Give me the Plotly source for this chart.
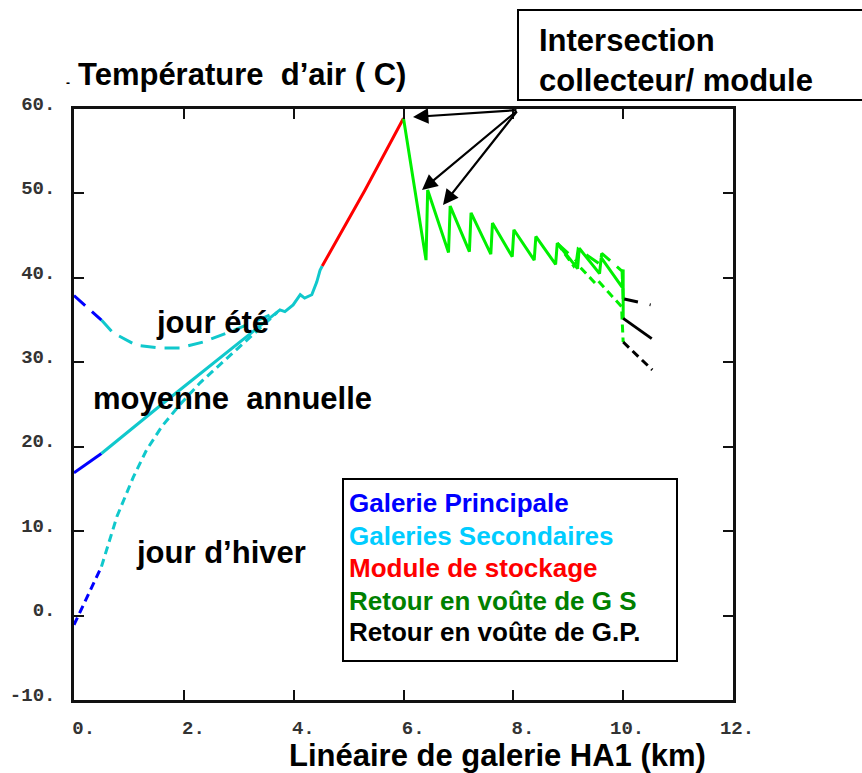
import plotly.graph_objects as go

# ---------------- data ----------------
# Moyenne annuelle (solid)
mean_gp_x = [0.0, 0.5]
mean_gp_y = [16.9, 19.2]
mean_gs_x = [0.5, 1.0, 1.5, 2.0, 2.5, 3.0, 3.5, 3.75, 3.84, 3.99, 4.12, 4.2, 4.33, 4.42, 4.48, 4.52]
mean_gs_y = [19.2, 21.9, 24.5, 27.1, 29.7, 32.3, 34.9, 36.2, 36.0, 36.8, 38.0, 37.6, 38.0, 39.5, 40.9, 41.4]
module_x = [4.52, 5.3, 6.0]
module_y = [41.4, 50.4, 58.9]
mean_ret_x = [6.0, 6.41, 6.44, 6.82, 6.85, 7.2, 7.23, 7.59, 7.62, 7.98, 8.01, 8.38, 8.41,
              8.77, 8.8, 9.17, 9.2, 9.57, 9.6, 9.98, 10.0, 10.0]
mean_ret_y = [58.9, 42.1, 50.4, 43.0, 48.5, 43.1, 47.7, 42.8, 46.5, 42.5, 45.7, 42.1, 44.9,
              41.6, 44.1, 41.1, 43.5, 40.5, 42.4, 38.9, 41.0, 35.2]
mean_gpret_x = [10.0, 10.52]
mean_gpret_y = [35.2, 32.8]

# Jour d'ete (long dashes)
ete_gp_x = [0.0, 0.5]
ete_gp_y = [37.9, 35.0]
ete_gs_x = [0.5, 0.71, 1.14, 1.57, 1.93, 2.35, 2.84, 3.26, 3.57]
ete_gs_y = [35.0, 33.5, 32.0, 31.7, 31.7, 32.4, 33.6, 34.8, 35.6]
ete_ret_x = [8.8, 9.15, 9.18, 9.58, 9.61, 9.98, 10.0]
ete_ret_y = [44.1, 42.0, 43.4, 41.6, 42.9, 40.8, 37.5]
ete_gpret_x = [10.02, 10.5]
ete_gpret_y = [37.5, 36.8]

# Jour d'hiver (short dashes)
hiver_gp_x = [0.0, 0.5]
hiver_gp_y = [-1.1, 5.8]
hiver_gs_x = [0.5, 0.78, 1.08, 1.32, 1.6, 1.93, 2.3, 2.7, 3.1, 3.45, 3.7]
hiver_gs_y = [5.8, 11.7, 16.4, 19.6, 22.4, 25.0, 27.6, 30.0, 32.3, 34.5, 35.9]
hiver_ret_x = [8.8, 9.1, 9.14, 9.5, 9.55, 9.97, 10.0]
hiver_ret_y = [44.1, 41.4, 41.8, 39.3, 39.6, 36.6, 32.4]
hiver_gpret_x = [10.0, 10.53]
hiver_gpret_y = [32.4, 29.1]

x_ticks = [0, 2, 4, 6, 8, 10, 12]
x_ticktext = ["\u00a00.", "\u00a02.", "\u00a04.", "\u00a06.", "\u00a08.", "10.", "12."]
y_ticks = [-10, 0, 10, 20, 30, 40, 50, 60]
y_ticktext = ["-10.", "0.", "10.", "20.", "30.", "40.", "50.", "60."]

legend_labels = ["Galerie Principale", "Galeries Secondaires", "Module de stockage",
                 "Retour en voûte de G S", "Retour en voûte de G.P."]
legend_colors = ["#0000ff", "#00ccff", "#ff0000", "#008000", "#000000"]

# ---------------- styles ----------------
BLUE = "#0000ff"
CYAN = "#10c8cc"
RED = "#ff0000"
GREEN = "#00f000"
BLACK = "#000000"
LW = 3
DASH_ETE = "15px,9px"
DASH_HIVER = "8px,5px"

fig = go.Figure()

def add(x, y, color, dash="solid"):
    fig.add_trace(go.Scatter(x=x, y=y, mode="lines",
                             line=dict(color=color, width=LW, dash=dash),
                             showlegend=False, hoverinfo="skip"))

add(ete_gp_x, ete_gp_y, BLUE, DASH_ETE)
add(ete_gs_x, ete_gs_y, CYAN, DASH_ETE)
add(hiver_gp_x, hiver_gp_y, BLUE, DASH_HIVER)
add(hiver_gs_x, hiver_gs_y, CYAN, DASH_HIVER)
add(ete_ret_x, ete_ret_y, GREEN, DASH_ETE)
add(hiver_ret_x, hiver_ret_y, GREEN, DASH_HIVER)
add(mean_gp_x, mean_gp_y, BLUE)
add(mean_gs_x, mean_gs_y, CYAN)
add(module_x, module_y, RED)
add(mean_ret_x, mean_ret_y, GREEN)
add(mean_gpret_x, mean_gpret_y, BLACK)
add(ete_gpret_x, ete_gpret_y, BLACK, "14px,12px,3px,30px")
add(hiver_gpret_x, hiver_gpret_y, BLACK, "8px,5px")

# ---------------- layout ----------------
W, H = 862, 773
L, R, T, B = 74, 733, 109, 700

def px(xp):
    return (xp - L) / (R - L)

def py(yp):
    return (B - yp) / (B - T)

FONT = "Liberation Sans, Arial, sans-serif"
MONO = "Liberation Mono, Courier New, monospace"

axis_common = dict(showgrid=False, zeroline=False, showline=True, linecolor="#111",
                   linewidth=2.5, mirror="ticks", ticks="inside", ticklen=10,
                   tickwidth=2, tickcolor="#111", automargin=False,
                   tickfont=dict(family=MONO, size=19, color="#333", weight="bold"))

fig.update_layout(
    width=W, height=H,
    margin=dict(l=L, r=W - R, t=T, b=H - B),
    paper_bgcolor="white", plot_bgcolor="white",
    xaxis=dict(range=[0, 12], tickvals=x_ticks, ticktext=x_ticktext,
               ticklabelshift=4, ticklabelstandoff=8, **axis_common),
    yaxis=dict(range=[-10, 60], tickvals=y_ticks, ticktext=y_ticktext,
               ticklabelstandoff=12, ticklabelshift=-6, **axis_common),
)

shapes = [
    dict(type="rect", xref="paper", yref="paper", x0=px(343), x1=px(677), y0=py(661), y1=py(479),
         line=dict(color="black", width=2), fillcolor="white", layer="above"),
    dict(type="rect", xref="paper", yref="paper", x0=px(518), x1=px(880), y0=py(100), y1=py(10),
         line=dict(color="black", width=2), fillcolor="white", layer="above"),
]
fig.update_layout(shapes=shapes)

ann = []
def text(xp, yp, s, size=31, color="black", xanchor="left"):
    ann.append(dict(x=px(xp), y=py(yp), xref="paper", yref="paper", text=s, showarrow=False,
                    xanchor=xanchor, yanchor="middle",
                    font=dict(family=FONT, size=size, color=color, weight="bold")))

text(76, 75, "Température\u00a0 d’air (\u00a0C)", size=31)
text(64, 83, "-", size=12)
text(498, 755, "Linéaire de galerie HA1 (km)", size=31, xanchor="center")
text(537, 41, "Intersection", size=31)
text(537, 80, "collecteur/ module", size=31)
text(154, 322, "jour été", size=31)
text(91, 398, "moyenne\u00a0 annuelle", size=31)
text(134, 552, "jour d’hiver", size=31)

leg_y = [503, 536, 568, 601, 632]
for lab, col, yy in zip(legend_labels, legend_colors, leg_y):
    text(347, yy, lab, size=26, color=col)

# arrows (heads in data coords, tails at the box corner)
def arrow(hx, hy):
    return dict(x=(hx - L) / (R - L) * 12, y=60 - (hy - T) / (B - T) * 70, xref="x", yref="y",
                ax=518 - hx, ay=110 - hy, axref="pixel", ayref="pixel",
                text="", showarrow=True, arrowhead=2, arrowsize=1.4, arrowwidth=2.2,
                arrowcolor="black")

ann += [arrow(413, 117), arrow(422, 190), arrow(443, 205)]
fig.update_layout(annotations=ann)

fig.write_html("out.html")
